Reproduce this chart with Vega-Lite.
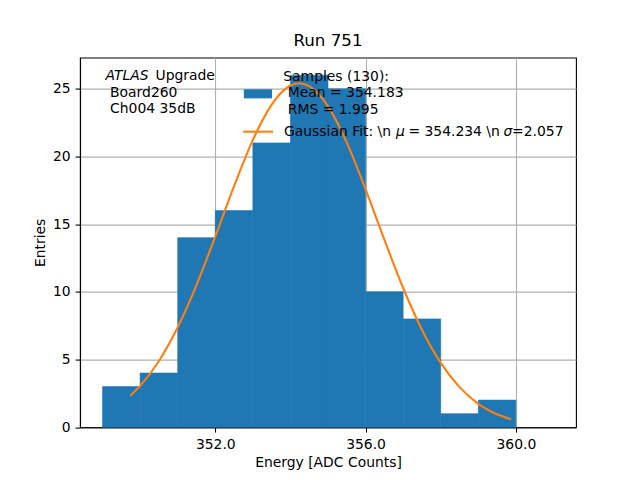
{
  "$schema": "https://vega.github.io/schema/vega-lite/v6.json",
  "width": 496,
  "height": 369.6,
  "autosize": {"type": "none"},
  "padding": {"left": 80, "top": 57.6, "right": 64, "bottom": 52.8},
  "background": "white",
  "title": {
    "text": "Run 751",
    "fontSize": 16.7,
    "fontWeight": "normal",
    "font": "DejaVu Sans",
    "color": "black",
    "offset": 8
  },
  "datasets": {
    "hist": [
      {"lo": 349, "hi": 350, "n": 3},
      {"lo": 350, "hi": 351, "n": 4},
      {"lo": 351, "hi": 352, "n": 14},
      {"lo": 352, "hi": 353, "n": 16},
      {"lo": 353, "hi": 354, "n": 21},
      {"lo": 354, "hi": 355, "n": 26},
      {"lo": 355, "hi": 356, "n": 25},
      {"lo": 356, "hi": 357, "n": 10},
      {"lo": 357, "hi": 358, "n": 8},
      {"lo": 358, "hi": 359, "n": 1},
      {"lo": 359, "hi": 360, "n": 2}
    ],
    "fit": [
      {"x": 349.74, "y": 2.33},
      {"x": 350.0, "y": 3.05},
      {"x": 350.5, "y": 4.89},
      {"x": 351.0, "y": 7.38},
      {"x": 351.5, "y": 10.5},
      {"x": 352.0, "y": 14.08},
      {"x": 352.5, "y": 17.8},
      {"x": 353.0, "y": 21.22},
      {"x": 353.5, "y": 23.83},
      {"x": 354.0, "y": 25.24},
      {"x": 354.234, "y": 25.4},
      {"x": 354.5, "y": 25.19},
      {"x": 355.0, "y": 23.7},
      {"x": 355.5, "y": 21.02},
      {"x": 356.0, "y": 17.57},
      {"x": 356.5, "y": 13.85},
      {"x": 357.0, "y": 10.28},
      {"x": 357.5, "y": 7.2},
      {"x": 358.0, "y": 4.75},
      {"x": 358.5, "y": 2.96},
      {"x": 359.0, "y": 1.73},
      {"x": 359.5, "y": 0.96},
      {"x": 359.87, "y": 0.59}
    ]
  },
  "layer": [
    {
      "data": {"name": "hist"},
      "mark": {"type": "rect", "color": "#1f77b4", "stroke": "#1f77b4", "strokeWidth": 0.6},
      "encoding": {
        "x": {
          "field": "lo",
          "type": "quantitative",
          "title": "Energy [ADC Counts]",
          "scale": {"domain": [348.4, 361.6], "nice": false, "zero": false},
          "axis": {"values": [352, 356, 360], "format": ".1f"}
        },
        "x2": {"field": "hi"},
        "y": {
          "field": "n",
          "type": "quantitative",
          "title": "Entries",
          "scale": {"domain": [0, 27.3], "nice": false},
          "axis": {"values": [0, 5, 10, 15, 20, 25], "format": "d"}
        },
        "y2": {"datum": 0}
      }
    },
    {
      "data": {"name": "fit"},
      "mark": {"type": "line", "color": "#ff7f0e", "strokeWidth": 2.1, "interpolate": "monotone"},
      "encoding": {
        "x": {"field": "x", "type": "quantitative", "title": "Energy [ADC Counts]"},
        "y": {"field": "y", "type": "quantitative", "title": "Entries"}
      }
    },
    {
      "data": {"values": [{}]},
      "mark": {"type": "rect", "color": "#1f77b4"},
      "encoding": {
        "x": {"datum": 352.76, "type": "quantitative"},
        "x2": {"datum": 353.51},
        "y": {"datum": 24.96, "type": "quantitative"},
        "y2": {"datum": 24.29}
      }
    },
    {
      "data": {"values": [{}]},
      "mark": {"type": "rule", "color": "#ff7f0e", "strokeWidth": 2.1},
      "encoding": {
        "x": {"datum": 352.74, "type": "quantitative"},
        "x2": {"datum": 353.54},
        "y": {"datum": 21.83, "type": "quantitative"}
      }
    },
    {
      "data": {"values": [{}]},
      "mark": {"type": "text", "align": "left", "baseline": "alphabetic", "fontStyle": "italic"},
      "encoding": {
        "x": {"datum": 349.08, "type": "quantitative"},
        "y": {"datum": 25.65, "type": "quantitative"},
        "text": {"value": "ATLAS"}
      }
    },
    {
      "data": {"values": [{}]},
      "mark": {"type": "text", "align": "left", "baseline": "alphabetic"},
      "encoding": {
        "x": {"datum": 350.41, "type": "quantitative"},
        "y": {"datum": 25.65, "type": "quantitative"},
        "text": {"value": "Upgrade"}
      }
    },
    {
      "data": {"values": [{}]},
      "mark": {"type": "text", "align": "left", "baseline": "alphabetic"},
      "encoding": {
        "x": {"datum": 349.2, "type": "quantitative"},
        "y": {"datum": 24.37, "type": "quantitative"},
        "text": {"value": "Board260"}
      }
    },
    {
      "data": {"values": [{}]},
      "mark": {"type": "text", "align": "left", "baseline": "alphabetic"},
      "encoding": {
        "x": {"datum": 349.2, "type": "quantitative"},
        "y": {"datum": 23.19, "type": "quantitative"},
        "text": {"value": "Ch004 35dB"}
      }
    },
    {
      "data": {"values": [{}]},
      "mark": {"type": "text", "align": "left", "baseline": "alphabetic"},
      "encoding": {
        "x": {"datum": 353.81, "type": "quantitative"},
        "y": {"datum": 25.55, "type": "quantitative"},
        "text": {"value": "Samples (130):"}
      }
    },
    {
      "data": {"values": [{}]},
      "mark": {"type": "text", "align": "left", "baseline": "alphabetic"},
      "encoding": {
        "x": {"datum": 353.93, "type": "quantitative"},
        "y": {"datum": 24.37, "type": "quantitative"},
        "text": {"value": "Mean = 354.183"}
      }
    },
    {
      "data": {"values": [{}]},
      "mark": {"type": "text", "align": "left", "baseline": "alphabetic"},
      "encoding": {
        "x": {"datum": 353.93, "type": "quantitative"},
        "y": {"datum": 23.11, "type": "quantitative"},
        "text": {"value": "RMS = 1.995"}
      }
    },
    {
      "data": {"values": [{}]},
      "mark": {"type": "text", "align": "left", "baseline": "alphabetic"},
      "encoding": {
        "x": {"datum": 353.83, "type": "quantitative"},
        "y": {"datum": 21.49, "type": "quantitative"},
        "text": {"value": "Gaussian Fit: \\n"}
      }
    },
    {
      "data": {"values": [{}]},
      "mark": {"type": "text", "align": "left", "baseline": "alphabetic", "fontStyle": "italic"},
      "encoding": {
        "x": {"datum": 356.81, "type": "quantitative"},
        "y": {"datum": 21.49, "type": "quantitative"},
        "text": {"value": "μ"}
      }
    },
    {
      "data": {"values": [{}]},
      "mark": {"type": "text", "align": "left", "baseline": "alphabetic"},
      "encoding": {
        "x": {"datum": 357.14, "type": "quantitative"},
        "y": {"datum": 21.49, "type": "quantitative"},
        "text": {"value": "= 354.234 \\n"}
      }
    },
    {
      "data": {"values": [{}]},
      "mark": {"type": "text", "align": "left", "baseline": "alphabetic", "fontStyle": "italic"},
      "encoding": {
        "x": {"datum": 359.67, "type": "quantitative"},
        "y": {"datum": 21.49, "type": "quantitative"},
        "text": {"value": "σ"}
      }
    },
    {
      "data": {"values": [{}]},
      "mark": {"type": "text", "align": "left", "baseline": "alphabetic"},
      "encoding": {
        "x": {"datum": 359.9, "type": "quantitative"},
        "y": {"datum": 21.49, "type": "quantitative"},
        "text": {"value": "=2.057"}
      }
    }
  ],
  "config": {
    "font": "DejaVu Sans",
    "view": {"stroke": "black", "strokeWidth": 1.1},
    "text": {"font": "DejaVu Sans", "fontSize": 13.9, "color": "black"},
    "axis": {
      "zindex": 1,
      "grid": true,
      "gridColor": "#b0b0b0",
      "gridWidth": 1.1,
      "domainColor": "black",
      "domainWidth": 1.1,
      "tickColor": "black",
      "tickWidth": 1.1,
      "tickSize": 4.9,
      "labelPadding": 4.9,
      "labelFont": "DejaVu Sans",
      "labelFontSize": 13.9,
      "labelColor": "black",
      "titleFont": "DejaVu Sans",
      "titleFontSize": 13.9,
      "titleFontWeight": "normal",
      "titleColor": "black",
      "titlePadding": 5
    },
    "axisY": {"labelAngle": 0}
  }
}
